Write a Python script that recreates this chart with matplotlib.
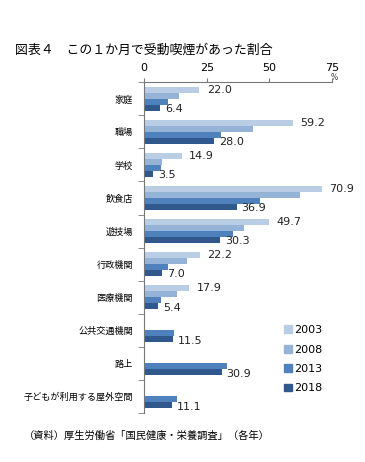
import numpy as np
import matplotlib
matplotlib.use("Agg")
import matplotlib.pyplot as plt
from matplotlib.patches import Patch

plt.rcParams['font.family'] = ['Noto Sans CJK JP', 'DejaVu Sans']

# data
categories = ["家庭", "職場", "学校", "飲食店", "遊技場", "行政機関", "医療機関",
              "公共交通機関", "路上", "子どもが利用する屋外空間"]
years = ["2003", "2008", "2013", "2018"]
v2003 = [22.0, 59.2, 14.9, 70.9, 49.7, 22.2, 17.9, None, None, None]
v2008 = [14.0, 43.6, 7.1, 62.0, 39.8, 16.9, 13.2, None, None, None]
v2013 = [9.5, 30.6, 6.8, 46.4, 35.4, 9.6, 6.8, 12.0, 33.2, 13.2]
v2018 = [6.4, 28.0, 3.5, 36.9, 30.3, 7.0, 5.4, 11.5, 30.9, 11.1]
series = [v2003, v2008, v2013, v2018]
colors = ["#B9CDE5", "#95B3D7", "#4F81BD", "#30588C"]
x_ticks = [0, 25, 50, 75]

fig = plt.figure(figsize=(3.65, 4.62), dpi=100)
ax = fig.add_axes([0.395, 0.106, 0.515, 0.716])

bh = 0.18
for k, vals in enumerate(series):
    for i, v in enumerate(vals):
        if v is None:
            continue
        y = i + (k - 1.5) * bh
        ax.barh(y, v, height=bh, color=colors[k], linewidth=0)

# value labels: 2003 (first bar) and 2018 (last bar)
for i in range(len(categories)):
    if v2003[i] is not None:
        ax.text(v2003[i] + 3, i - 1.5 * bh, f"{v2003[i]:.1f}", va="center",
                ha="left", fontsize=8, family="DejaVu Sans", color="#222222")
    ax.text(v2018[i] + 2, i + 1.5 * bh + 0.04, f"{v2018[i]:.1f}", va="center",
            ha="left", fontsize=8, family="DejaVu Sans", color="#222222")

ax.set_ylim(len(categories) - 0.5, -0.5)
ax.set_xlim(0, 75)
ax.xaxis.tick_top()
ax.set_xticks(x_ticks)
ax.set_xticklabels([str(t) for t in x_ticks], fontsize=8, family="DejaVu Sans")
ax.tick_params(axis="x", direction="out", length=3, pad=4, color="#777777")

ax.set_yticks(range(len(categories)))
ax.set_yticklabels(categories, fontsize=6.6)
ax.tick_params(axis="y", length=0, pad=8)
# boundary ticks on the left axis
ax.set_yticks(np.arange(-0.5, len(categories) + 0.5, 1), minor=True)
ax.tick_params(axis="y", which="minor", length=4, direction="out", color="#777777")

for s in ["right", "bottom"]:
    ax.spines[s].set_visible(False)
for s in ["left", "top"]:
    ax.spines[s].set_color("#777777")
    ax.spines[s].set_linewidth(0.8)

ax.text(74.5, -0.52, "%", fontsize=5.5, family="DejaVu Sans", ha="left", va="bottom",
        color="#444444")

handles = [Patch(color=c, label=y) for c, y in zip(colors, years)]
fig.legend(handles=handles, loc="upper left", bbox_to_anchor=(0.75, 0.318),
           frameon=False, handlelength=0.7, handleheight=0.7,
           handletextpad=0.2, labelspacing=0.85, prop={"family": "DejaVu Sans", "size": 8})

fig.text(0.04, 0.892, "図表４　この１か月で受動喫煙があった割合", fontsize=9.3, va="center")
fig.text(0.065, 0.056, "（資料）厚生労働省「国民健康・栄養調査」（各年）", fontsize=7.4, va="center")

fig.savefig("out.png", dpi=100)
